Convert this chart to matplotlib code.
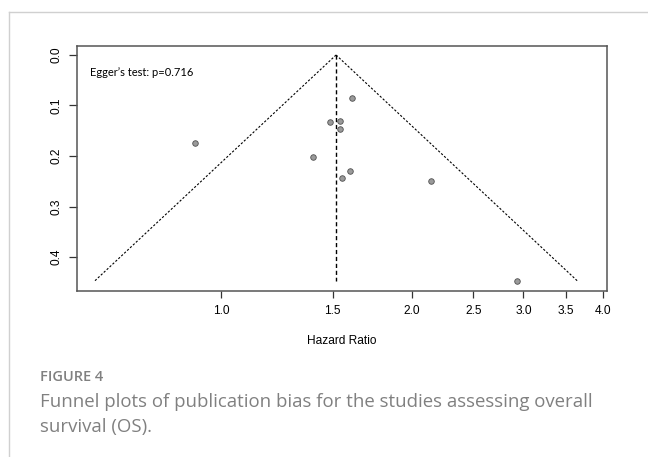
import numpy as np
import matplotlib
matplotlib.use('Agg')
import matplotlib.pyplot as plt
from matplotlib.lines import Line2D

# study estimates
hazard_ratio = [1.608, 1.488, 1.541, 1.541, 1.399, 1.600, 1.550, 0.910, 2.145, 2.935]
std_error = [0.0845, 0.133, 0.130, 0.147, 0.201, 0.230, 0.244, 0.174, 0.250, 0.448]
pooled_hr = 1.519
se_max = 0.447

xticks = [1.0, 1.5, 2.0, 2.5, 3.0, 3.5, 4.0]
xtick_labels = ['1.0', '1.5', '2.0', '2.5', '3.0', '3.5', '4.0']
yticks = [0.0, 0.1, 0.2, 0.3, 0.4]
ytick_labels = ['0.0', '0.1', '0.2', '0.3', '0.4']

fig = plt.figure(figsize=(6.48, 4.57), dpi=100)
ax = fig.add_axes([0.1184, 0.3639, 0.8179, 0.5361])

# funnel (pseudo 95% limits)
se_line = np.array([0.0, se_max])
lo = np.exp(np.log(pooled_hr) - 1.96 * se_line)
hi = np.exp(np.log(pooled_hr) + 1.96 * se_line)
ax.plot(lo, se_line, color='black', lw=0.8, dashes=(2, 1.6))
ax.plot(hi, se_line, color='black', lw=0.8, dashes=(2, 1.6))
ax.plot([pooled_hr, pooled_hr], [0.0, se_max], color='black', lw=1.0, dashes=(3, 2))

ax.scatter(hazard_ratio, std_error, s=16, c='#9a9a9a', edgecolors='#505050',
           linewidths=0.6, zorder=3)

ax.set_xscale('log')
ax.set_xlim(0.592, 4.061)
ax.set_ylim(0.4667, -0.0184)
ax.minorticks_off()
ax.set_xticks(xticks)
ax.set_xticklabels(xtick_labels)
ax.set_yticks(yticks)
ax.set_yticklabels(ytick_labels, rotation=90, va='center')

font = 'Liberation Sans'
for lab in ax.get_xticklabels() + ax.get_yticklabels():
    lab.set_fontfamily(font)
    lab.set_fontsize(8.6)
ax.tick_params(axis='x', length=5, width=0.9, pad=5.5, color='#333333')
ax.tick_params(axis='y', length=6, width=0.9, pad=4.5, color='#333333')
for sp in ax.spines.values():
    sp.set_color('#555555')
    sp.set_linewidth(1.1)

ax.set_xlabel('Hazard Ratio', fontfamily=font, fontsize=8.6)
ax.xaxis.set_label_coords(0.5, -0.182)

ax.text(0.025, 0.89, "Egger\u2019s test: p=0.716", transform=ax.transAxes,
        fontfamily='Lato', fontsize=8, va='center', ha='left')

# page frame lines around the figure
fig.add_artist(Line2D([9.3 / 648, 1.0], [1 - 11.7 / 457] * 2, color='#d0d0d0', lw=1.0))
fig.add_artist(Line2D([9.3 / 648] * 2, [0.0, 1 - 11.7 / 457], color='#d0d0d0', lw=1.0))

fig.text(40 / 648, 1 - 377 / 457, 'FIGURE 4', fontfamily='Open Sans', fontweight='semibold',
         fontsize=10.5, color='#808080', va='center', ha='left')
fig.text(40 / 648, 1 - 402 / 457, 'Funnel plots of publication bias for the studies assessing overall',
         fontfamily='Open Sans', fontsize=13.4, color='#808080', va='center', ha='left')
fig.text(40 / 648, 1 - 427 / 457, 'survival (OS).',
         fontfamily='Open Sans', fontsize=13.4, color='#808080', va='center', ha='left')

plt.savefig('out.png', dpi=100)
